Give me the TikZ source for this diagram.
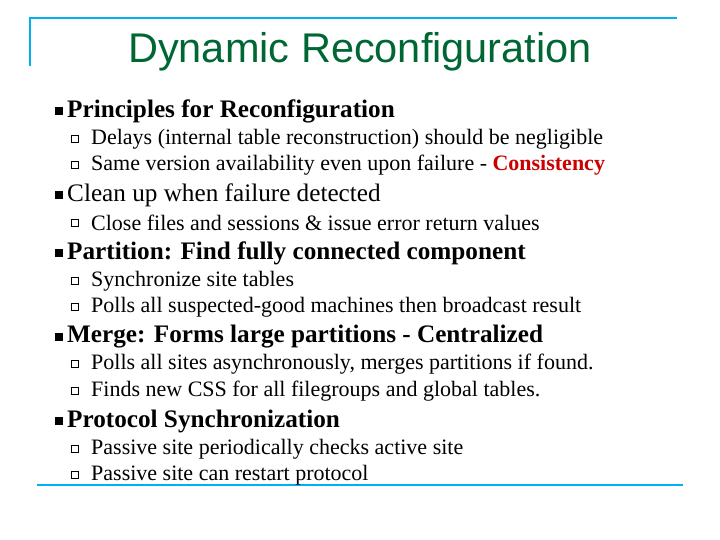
\documentclass[tikz,border=0pt]{standalone}
\usepackage{fontspec}
\setmainfont{Liberation Serif}
\newfontfamily\titlefont{Liberation Sans}
\definecolor{titlegreen}{RGB}{0,102,51}
\definecolor{linecyan}{RGB}{0,176,240}
\definecolor{conred}{RGB}{204,0,0}
\begin{document}
\begin{tikzpicture}[x=1pt,y=-1pt,
  lone/.style={anchor=west,inner sep=0pt,font=\fontsize{25.2}{28}\selectfont},
  ltwo/.style={anchor=west,inner sep=0pt,font=\fontsize{22}{25}\selectfont},
  bulA/.style={fill=black,minimum size=8pt,inner sep=0pt},
  bulB/.style={draw=black,line width=0.6pt,minimum size=6.5pt,inner sep=0pt},
  rule/.style={draw=linecyan,line width=2.5pt}]
\useasboundingbox (0,0) rectangle (720,540);
\coordinate (tl) at (30,66); \coordinate (tc) at (30,18); \coordinate (tr) at (677,18);
\draw[rule] (tl) -- (tc) -- (tr);
\coordinate (bl) at (37,485); \coordinate (br) at (683,485);
\draw[rule] (bl) -- (br);
\node[inner sep=0pt,font=\titlefont\fontsize{41.5}{46}\selectfont,text=titlegreen] (title) at (360,52) {Dynamic Reconfiguration};
\foreach \y/\t/\b in {111/Principles for Reconfiguration/1,195/Clean up when failure detected/0,253/Partition: Find fully connected component/1,337/Merge: Forms large partitions - Centralized/1,421/Protocol Synchronization/1}{
  \node[bulA] (b\y) at (59,\y) {};
  \ifnum\b=1 \node[lone] (t\y) at (67,\y) {\textbf{\t}};\else \node[lone] (t\y) at (67,\y) {\t};\fi
}
\foreach \y/\t in {139/Delays (internal table  reconstruction) should be negligible,223/Close files and sessions \& issue error return values,281/Synchronize site tables,307/Polls all suspected-good machines then broadcast result,364/{Polls all sites asynchronously, merges partitions if found.},391/Finds new CSS for all filegroups and global tables.,449/Passive site periodically checks active site,475/Passive site can restart protocol}{
  \node[bulB] (s\y) at (75,\y) {};
  \node[ltwo] (u\y) at (91,\y) {\t};
}
\node[bulB] (s165) at (75,165) {};
\node[ltwo] (u165) at (91,165) {Same version availability even upon failure - \textcolor{conred}{\textbf{Consistency}}};
\end{tikzpicture}
\end{document}
